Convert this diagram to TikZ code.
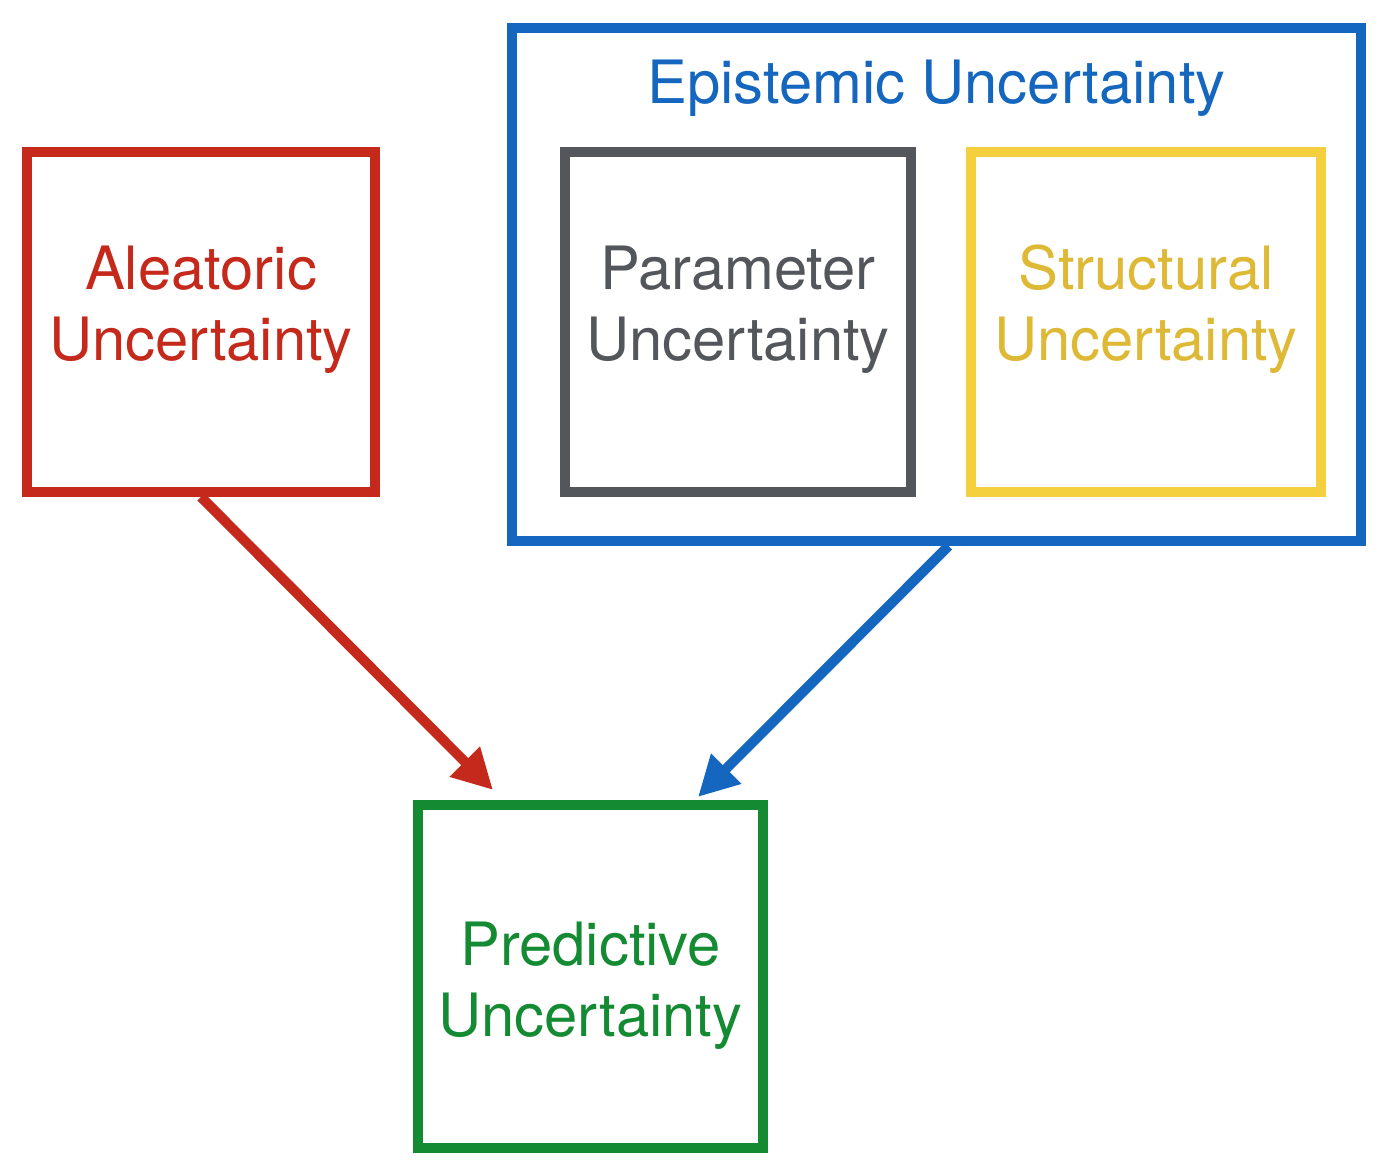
\documentclass[tikz,border=0pt]{standalone}
\usepackage{fontspec}
\setmainfont{TeX Gyre Heros}
\usepackage{xcolor}
\usetikzlibrary{calc,positioning,arrows.meta}
\definecolor{aleared}{HTML}{C4291B}
\definecolor{epiblue}{HTML}{1466BE}
\definecolor{paramgray}{HTML}{53565B}
\definecolor{structyellow}{HTML}{F4D03E}
\definecolor{structtext}{HTML}{DDB935}
\definecolor{predgreen}{HTML}{148A33}
\tikzstyle{block} = [rectangle, draw, line width=0.1cm, inner sep=0pt, minimum width=3.48cm, minimum height=3.4cm]
\tikzstyle{line} = [draw, -{Triangle[length=0.4cm,width=0.4cm]}, line width=0.1cm]
\tikzstyle{lbl} = [align=center, anchor=base, inner sep=0pt, font=\fontsize{17}{20.2}\selectfont]
\begin{document}
\begin{tikzpicture}
\useasboundingbox (0,0) rectangle (13.9,11.72);

\node [block, draw=aleared] (aleat) at (2.01,8.50) {};
\node [block, draw=epiblue, minimum width=8.49cm, minimum height=5.13cm] (epi) at (9.365,8.875) {};
\node [block, draw=paramgray, minimum width=3.46cm] (param) at (7.38,8.50) {};
\node [block, draw=structyellow, minimum width=3.5cm, right=0.5cm of param] (struct) {};
\node [block, draw=predgreen, minimum width=3.45cm, minimum height=3.43cm] (pred) at (5.905,1.955) {};

\node [lbl, text=aleared] (aleattxt) at ($(aleat.center)+(0,-0.39)$) {Aleatoric\\Uncertainty};
\node [lbl, text=epiblue] (epitxt) at ($(epi.north)+(0,-0.81)$) {Epistemic Uncertainty};
\node [lbl, text=paramgray] (paramtxt) at ($(param.center)+(0,-0.39)$) {Parameter\\Uncertainty};
\node [lbl, text=structtext] (structtxt) at ($(struct.center)+(0,-0.39)$) {Structural\\Uncertainty};
\node [lbl, text=predgreen] (predtxt) at ($(pred.center)+(0,-0.6)$) {Predictive\\Uncertainty};

\coordinate (predin1) at ($(pred.north west)+(0.80,0.10)$);
\coordinate (predin2) at ($(pred.north west)+(2.85,0.03)$);

\path [line, aleared] (aleat.south) -- (predin1);
\path [line, epiblue] ($(epi.south)+(0.12,0)$) -- (predin2);

\end{tikzpicture}
\end{document}
